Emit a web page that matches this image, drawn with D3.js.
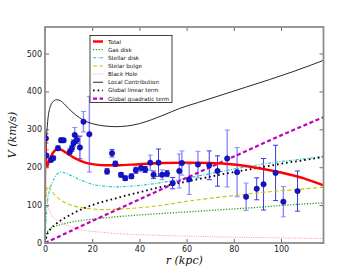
<!DOCTYPE html>
<html>
<head>
<style>
  body { margin: 0; background: #fff; }
  .tick text { font-family: "DejaVu Sans", sans-serif; font-size: 8px; fill: #222; }
  .tick line { stroke: #444; stroke-width: 0.8px; }
  .domain { display: none; }
  .lbl { font-family: "DejaVu Serif", serif; font-style: italic; font-size: 11px; fill: #111; }
  .leg text { font-family: "DejaVu Sans", sans-serif; font-size: 5.6px; fill: #111; }
</style>
</head>
<body>
<svg id="chart" width="360" height="270"></svg>
<script src="https://cdn.jsdelivr.net/npm/d3@7"></script>
<script>
// ---- data ----
var xTicks = [0, 20, 40, 60, 80, 100];
var yTicks = [0, 100, 200, 300, 400, 500];

var legendLabels = ["Total", "Gas disk", "Stellar disk", "Stelar bulge", "Black Hole",
                    "Local Contribution", "Global linear term", "Global quadratic term"];

var totalR = [0, 0.2, 0.4, 0.7, 1, 1.5, 2.5, 4, 5.5, 7, 9, 12, 15, 20, 25, 30, 40, 50, 60, 70, 80, 90, 100, 110, 118];
var totalV = [295, 262, 228, 205, 203, 212, 228, 243, 248, 246, 238, 226, 217, 208, 205, 205, 208, 211, 212, 211, 207, 198, 186, 170, 152];

var gasR = [0, 0.5, 1, 2, 4, 7, 10, 15, 20, 30, 40, 50, 60, 70, 80, 90, 100, 110, 118];
var gasV = [0, 18, 29, 37, 44, 49, 54, 59, 63, 69, 74, 78, 82, 86, 90, 94, 99, 103, 106];

var diskR = [0, 0.5, 1, 2, 3, 4, 5, 6.5, 8, 10, 13, 16, 20, 25, 30, 40, 50, 60, 70, 80, 90, 100, 110, 118];
var diskV = [0, 65, 105, 140, 158, 171, 181, 187, 186, 181, 172, 164, 155, 150, 148, 152, 160, 171, 183, 195, 206, 215, 222, 229];

var bulgeR = [0, 0.3, 0.7, 1.2, 2, 4, 7, 10, 15, 20, 25, 30, 40, 50, 60, 70, 80, 90, 100, 110, 118];
var bulgeV = [0, 100, 140, 150, 145, 128, 112, 102, 94, 90, 88, 89, 93, 100, 110, 118, 125, 132, 138, 143, 147];

var bhR = [0.2, 0.5, 1, 2, 4, 6.5, 10, 16, 23, 30, 40, 50, 74, 100, 118];
var bhV = [250, 160, 112, 85, 65, 55, 45, 34, 29, 25, 22, 20, 16, 13.5, 12];

var localR = [0, 0.2, 0.5, 1, 1.5, 2, 3, 4, 5, 6, 8, 10, 13, 16, 20, 25, 30, 35, 40, 45, 50, 57, 65, 75, 85, 95, 105, 118];
var localV = [0, 150, 250, 310, 340, 355, 370, 376, 378, 377, 368, 355, 338, 325, 315, 309, 307, 309, 315, 325, 337, 355, 371, 391, 411, 431, 452, 482];

var linR = [0, 1, 2, 5, 10, 20, 30, 40, 50, 60, 70, 80, 90, 100, 110, 118];
var linV = [0, 24, 34, 52, 72, 100, 118, 134, 149, 162, 175, 187, 198, 209, 219, 227];

var quadR = [0, 20, 40, 60, 80, 100, 118];
var quadV = [0, 58, 115, 172, 228, 284, 332];

// observed rotation curve: radius, velocity, error, faint bar
var obsR = [0.4, 0.6, 2.5, 3.5, 5.5, 6.8, 7.9, 10.5, 11.4, 12.1, 12.6, 13.5, 14.8, 16.3, 18.8,
            26.3, 28.4, 29.8, 32.2, 34, 36.6, 38.5, 40.7, 42.5, 44.6, 46, 48.1, 49.6, 51.7, 54.1,
            56.9, 58, 61.1, 64.8, 69.6, 73.1, 77.2, 81.4, 85.2, 89.7, 92.6, 97.7, 101, 107];
var obsV = [276, 231, 219, 224, 250, 271, 271, 240, 250, 264, 285, 272, 252, 320, 287,
            189, 237, 209, 180, 171, 176, 192, 198, 194, 212, 180, 212, 180, 183, 158,
            190, 211, 168, 207, 205, 190, 223, 187, 122, 143, 155, 185, 109, 137];
var obsErr = [12, 15, 5, 5, 6, 6, 5, 8, 8, 8, 20, 10, 30, 27, 100,
              7, 10, 7, 6, 6, 6, 8, 10, 8, 20, 10, 36, 13, 8, 15,
              45, 32, 40, 35, 38, 40, 75, 65, 36, 29, 68, 73, 40, 53];
var obsFaint = [0, 1, 0, 0, 0, 0, 0, 0, 0, 0, 1, 0, 0, 1, 1,
                0, 0, 0, 0, 0, 0, 0, 1, 0, 1, 0, 0, 1, 0, 0,
                1, 1, 1, 1, 0, 0, 1, 1, 1, 0, 0, 0, 1, 0];

// ---- layout ----
var svg = d3.select("#chart");
var plotL = 45, plotR = 323.5, plotT = 27, plotB = 243;

var x = d3.scaleLinear().domain([0, 118]).range([plotL, plotR]);
var y = d3.scaleLinear().domain([0, 570]).range([plotB, plotT]);

svg.append("defs").append("clipPath").attr("id", "clip")
    .append("rect").attr("x", plotL).attr("y", plotT)
    .attr("width", plotR - plotL).attr("height", plotB - plotT);
var plot = svg.append("g").attr("clip-path", "url(#clip)");

function zip(rs, vs) {
    return rs.map(function(r, i) { return [r, vs[i]]; });
}
var line = d3.line()
    .x(function(d) { return x(d[0]); })
    .y(function(d) { return y(d[1]); })
    .curve(d3.curveMonotoneX);

var styles = [
    { data: zip(totalR, totalV), color: "#ff0000", width: 2.4, dash: null },
    { data: zip(gasR, gasV), color: "#1e9e1e", width: 1.3, dash: "1.2,1.6" },
    { data: zip(diskR, diskV), color: "#1fc4c4", width: 1.1, dash: "3,1.5,1,1.5" },
    { data: zip(bulgeR, bulgeV), color: "#c4c400", width: 1.1, dash: "4,2.5" },
    { data: zip(bhR, bhV), color: "#ff8a8a", width: 0.9, dash: "1,1.3" },
    { data: zip(localR, localV), color: "#111111", width: 0.9, dash: null },
    { data: zip(linR, linV), color: "#000000", width: 1.8, dash: "1.6,3" },
    { data: zip(quadR, quadV), color: "#c000c0", width: 2.2, dash: "4,2.6" }
];

// error bars and points
var obs = obsR.map(function(r, i) {
    return { r: r, v: obsV[i], e: obsErr[i], faint: obsFaint[i] };
});
var eb = plot.append("g");
obs.forEach(function(d) {
    var c = d.faint ? "#8c8cff" : "#3a3ae0";
    var w = d.faint ? 1.4 : 1;
    eb.append("line").attr("x1", x(d.r)).attr("x2", x(d.r))
        .attr("y1", y(d.v - d.e)).attr("y2", y(d.v + d.e))
        .attr("stroke", c).attr("stroke-width", w);
    [d.v - d.e, d.v + d.e].forEach(function(v) {
        eb.append("line").attr("x1", x(d.r) - 2.5).attr("x2", x(d.r) + 2.5)
            .attr("y1", y(v)).attr("y2", y(v))
            .attr("stroke", c).attr("stroke-width", 1);
    });
});

// model curves (total drawn on top of the rest)
[1, 2, 3, 4, 5, 6, 7, 0].forEach(function(i) {
    var s = styles[i];
    plot.append("path")
        .datum(s.data)
        .attr("d", line)
        .attr("fill", "none")
        .attr("stroke", s.color)
        .attr("stroke-width", s.width)
        .attr("stroke-dasharray", s.dash);
});

plot.append("g").selectAll("circle")
    .data(obs)
    .enter().append("circle")
    .attr("cx", function(d) { return x(d.r); })
    .attr("cy", function(d) { return y(d.v); })
    .attr("r", 2.7)
    .attr("fill", "#1212d8")
    .attr("stroke", "#00006a")
    .attr("stroke-width", 0.5);

// axes with inward ticks on all four sides
svg.append("g").attr("transform", "translate(0," + plotB + ")")
    .call(d3.axisBottom(x).tickValues(xTicks).tickSizeInner(-4).tickSizeOuter(0).tickPadding(3));
svg.append("g").attr("transform", "translate(0," + plotT + ")")
    .call(d3.axisTop(x).tickValues(xTicks).tickSizeInner(-4).tickSizeOuter(0).tickFormat(""));
svg.append("g").attr("transform", "translate(" + plotL + ",0)")
    .call(d3.axisLeft(y).tickValues(yTicks).tickSizeInner(-4).tickSizeOuter(0).tickPadding(3));
svg.append("g").attr("transform", "translate(" + plotR + ",0)")
    .call(d3.axisRight(y).tickValues(yTicks).tickSizeInner(-4).tickSizeOuter(0).tickFormat(""));

svg.append("rect")
    .attr("x", plotL).attr("y", plotT)
    .attr("width", plotR - plotL).attr("height", plotB - plotT)
    .attr("fill", "none").attr("stroke", "#8c8c8c").attr("stroke-width", 1.8);

svg.append("text").attr("class", "lbl")
    .attr("x", (plotL + plotR) / 2).attr("y", 264)
    .attr("text-anchor", "middle")
    .text("r (kpc)");
svg.append("text").attr("class", "lbl")
    .attr("transform", "translate(16," + ((plotT + plotB) / 2) + ") rotate(-90)")
    .attr("text-anchor", "middle")
    .text("V (km/s)");

// legend
var leg = svg.append("g").attr("class", "leg");
leg.append("rect")
    .attr("x", 90).attr("y", 35.5).attr("width", 82).attr("height", 67)
    .attr("fill", "#fff").attr("stroke", "#111").attr("stroke-width", 0.8);
legendLabels.forEach(function(name, i) {
    var s = styles[i];
    var ly = 41.5 + i * 8.15;
    leg.append("line")
        .attr("x1", 93).attr("x2", 103).attr("y1", ly).attr("y2", ly)
        .attr("stroke", s.color)
        .attr("stroke-width", i === 0 ? 2.4 : s.width)
        .attr("stroke-dasharray", s.dash);
    leg.append("text").attr("x", 108).attr("y", ly + 2).text(name);
});
</script>
</body>
</html>
